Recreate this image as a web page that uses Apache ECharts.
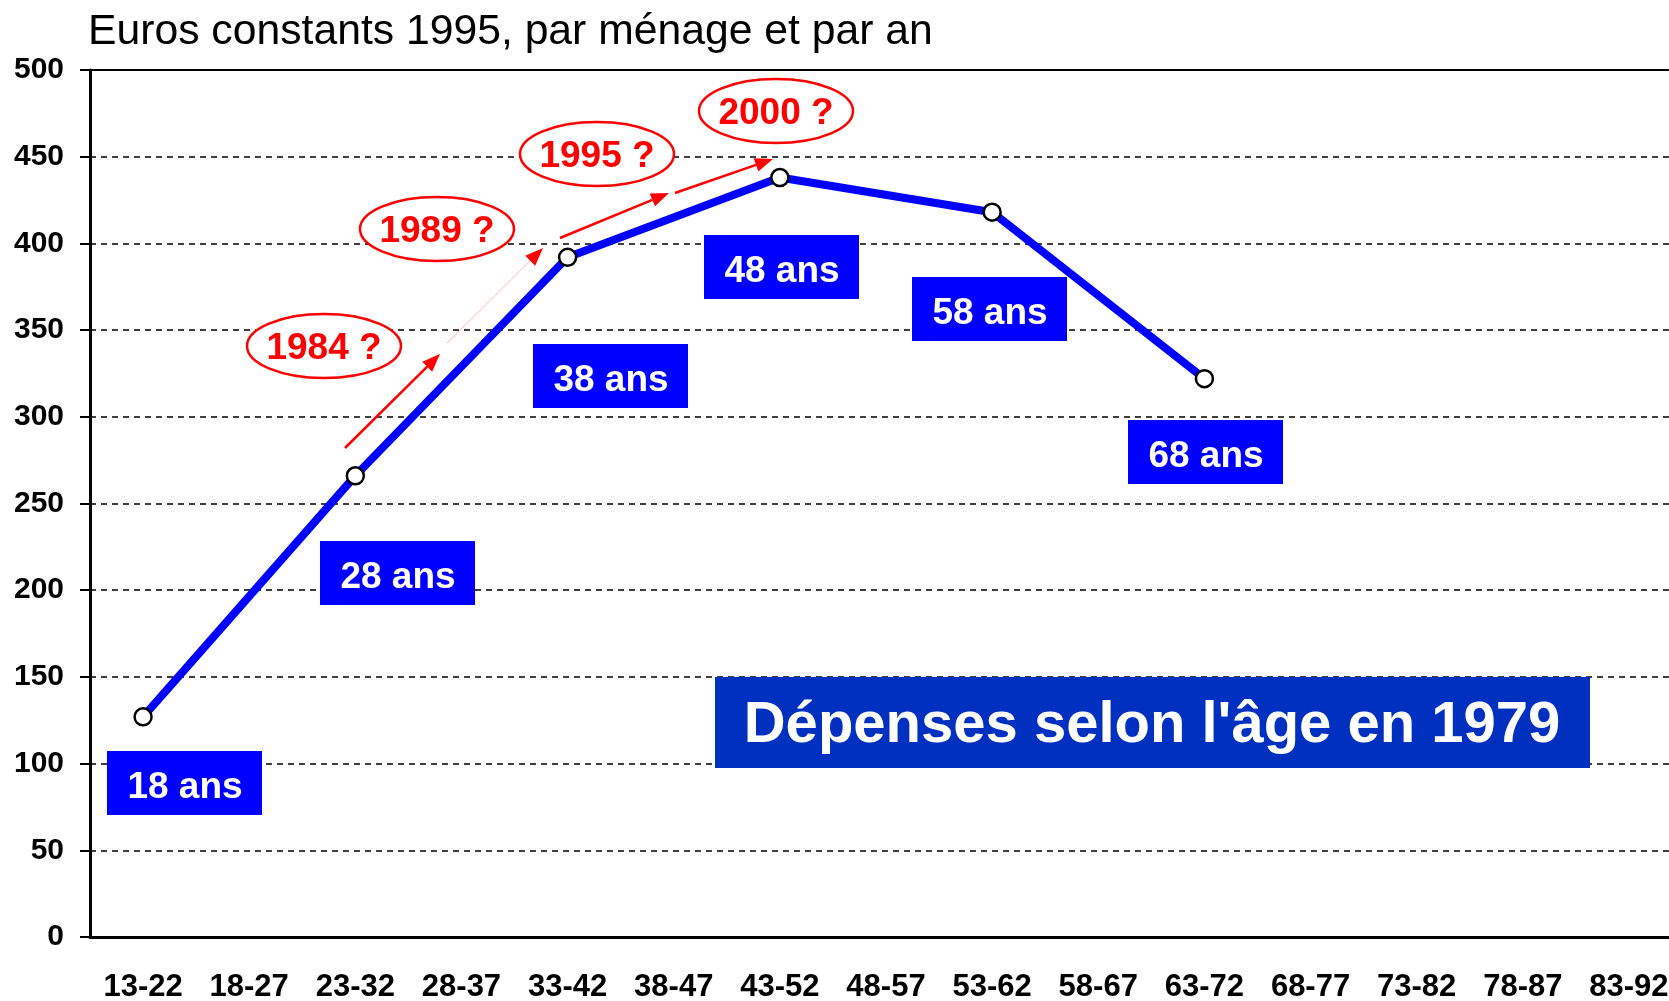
<!DOCTYPE html>
<html>
<head>
<meta charset="utf-8">
<script src="https://cdn.jsdelivr.net/npm/echarts@6/dist/echarts.min.js"></script>
<style>
  html, body { margin: 0; padding: 0; background: #fff; }
  #chart { width: 1669px; height: 1001px; }
</style>
</head>
<body>
<div id="chart"></div>
<script>
// ===== données =====
const ageGroups = ['13-22', '18-27', '23-32', '28-37', '33-42', '38-47', '43-52', '48-57',
  '53-62', '58-67', '63-72', '68-77', '73-82', '78-87', '83-92']
const spending = [127, null, 266, null, 392, null, 438, null, 418, null, 322, null, null, null, null]
const ageLabels = ['18 ans', '28 ans', '38 ans', '48 ans', '58 ans', '68 ans']
const yearLabels = ['1984 ?', '1989 ?', '1995 ?', '2000 ?']
const unitText = 'Euros constants 1995, par ménage et par an'
const bigTitle = "Dépenses selon l'âge en 1979"

// ===== mise en page des annotations (pixels) =====
const FONT = '"Liberation Sans", Arial, sans-serif'
const ageBoxPos = [[107, 751], [320, 541], [533, 344], [704, 235], [912, 277], [1128, 420]]
const yearPos = [[324, 346], [437, 229], [597, 154], [776, 111]]
const arrowPos = [
  [[345, 448], [440, 354], false],
  [[447, 343], [543, 248], true],
  [[560, 238], [669, 193], false],
  [[675, 193], [773, 159], false],
]

function arrow(from, to, faint) {
  const dx = to[0] - from[0], dy = to[1] - from[1]
  const len = Math.sqrt(dx * dx + dy * dy)
  const ux = dx / len, uy = dy / len
  const L = 18, W = 7
  const bx = to[0] - ux * L, by = to[1] - uy * L
  return [
    {
      type: 'line', z: 110,
      shape: { x1: from[0], y1: from[1], x2: bx, y2: by },
      style: { stroke: faint ? '#ffb8b8' : '#ff0000', lineWidth: faint ? 1 : 2.5 },
    },
    {
      type: 'polygon', z: 110,
      shape: { points: [to, [bx - uy * W, by + ux * W], [bx + uy * W, by - ux * W]] },
      style: { fill: '#ff0000' },
    },
  ]
}

const graphics = []
graphics.push({
  type: 'text', x: 88, y: 32, z: 100,
  style: { text: unitText, fill: '#000', font: '42.7px ' + FONT, verticalAlign: 'middle' },
})
ageLabels.forEach((t, i) => {
  const [x, y] = ageBoxPos[i]
  graphics.push({ type: 'rect', z: 100, shape: { x, y, width: 155, height: 64 }, style: { fill: '#0000ff' } })
  graphics.push({
    type: 'text', z: 101, x: x + 78, y: y + 37,
    style: { text: t, fill: '#fff', font: 'bold 37px ' + FONT, align: 'center', verticalAlign: 'middle' },
  })
})
yearLabels.forEach((t, i) => {
  const [cx, cy] = yearPos[i]
  graphics.push({
    type: 'ellipse', z: 100, shape: { cx, cy, rx: 77, ry: 32 },
    style: { fill: '#fff', stroke: '#ff0000', lineWidth: 2.5 },
  })
  graphics.push({
    type: 'text', z: 101, x: cx, y: cy + 3,
    style: { text: t, fill: '#ff0000', font: 'bold 37px ' + FONT, align: 'center', verticalAlign: 'middle' },
  })
})
arrowPos.forEach(a => graphics.push(...arrow(a[0], a[1], a[2])))
graphics.push({ type: 'rect', z: 100, shape: { x: 715, y: 677, width: 875, height: 91 }, style: { fill: '#0030c0' } })
graphics.push({
  type: 'text', z: 101, x: 1152, y: 726,
  style: { text: bigTitle, fill: '#fff', font: 'bold 58px ' + FONT, align: 'center', verticalAlign: 'middle' },
})

const chart = echarts.init(document.getElementById('chart'))
chart.setOption({
  animation: false,
  backgroundColor: '#fff',
  grid: { left: 90, top: 70, bottom: 64, width: 1592, outerBoundsMode: 'none', containLabel: false },
  xAxis: {
    type: 'category',
    data: ageGroups,
    boundaryGap: true,
    axisLine: { lineStyle: { color: '#000', width: 3 } },
    axisTick: { length: 10, lineStyle: { color: '#000', width: 2 } },
    axisLabel: { interval: 0, color: '#000', fontSize: 31, fontWeight: 'bold', fontFamily: FONT, margin: 35 },
    splitLine: { show: false },
  },
  yAxis: {
    type: 'value',
    min: 0, max: 500, interval: 50,
    axisLine: { show: true, lineStyle: { color: '#000', width: 3 } },
    axisTick: { show: true, length: 10, lineStyle: { color: '#000', width: 2 } },
    axisLabel: { color: '#000', fontSize: 30, fontWeight: 'bold', fontFamily: FONT, margin: 26 },
    splitLine: { lineStyle: { color: '#000', width: 1.5, type: [6, 5] } },
  },
  series: [{
    type: 'line',
    data: spending,
    connectNulls: true,
    lineStyle: { color: '#0000ff', width: 8 },
    symbol: 'circle',
    symbolSize: 17,
    itemStyle: { color: '#fff', borderColor: '#000', borderWidth: 2.5 },
    markLine: {
      silent: true, symbol: 'none', label: { show: false },
      lineStyle: { color: '#000', type: 'solid', width: 2 },
      data: [{ yAxis: 500 }],
    },
  }],
  graphic: graphics,
})
</script>
</body>
</html>
